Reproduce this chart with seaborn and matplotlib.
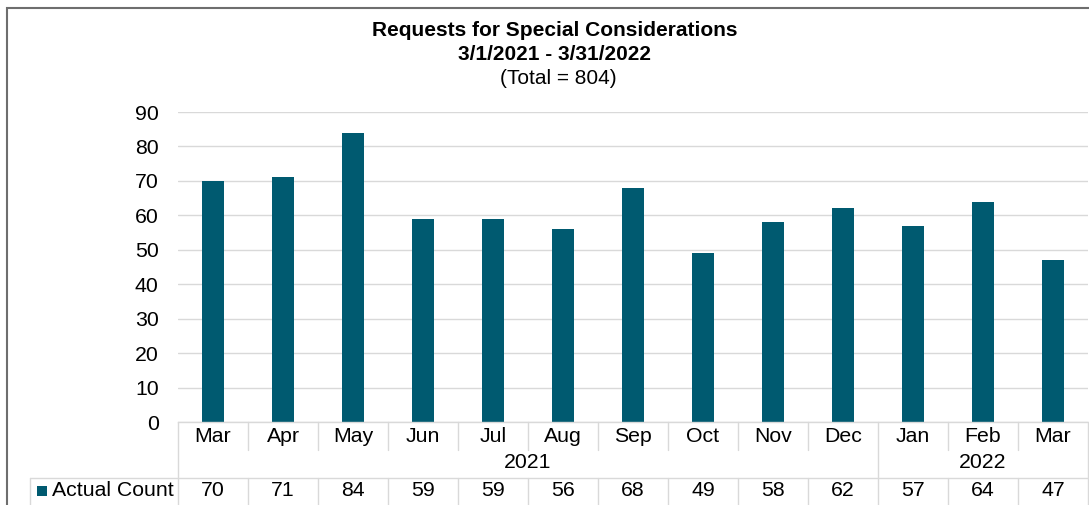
import matplotlib
matplotlib.use("Agg")
import matplotlib.pyplot as plt
import seaborn as sns
import pandas as pd
from matplotlib.patches import Rectangle

months = ["Mar", "Apr", "May", "Jun", "Jul", "Aug", "Sep", "Oct", "Nov", "Dec", "Jan", "Feb", "Mar"]
years = ["2021"] * 10 + ["2022"] * 3
counts = [70, 71, 84, 59, 59, 56, 68, 49, 58, 62, 57, 64, 47]
series_name = "Actual Count"
title_lines = ["Requests for Special Considerations", "3/1/2021 - 3/31/2022", "(Total = 804)"]
yticks = [0, 10, 20, 30, 40, 50, 60, 70, 80, 90]

BAR = "#005A70"
GRID = "#D9D9D9"
FS = 15.3

sns.set_theme(style="white")
plt.rcParams["font.family"] = ["Liberation Sans", "DejaVu Sans"]
plt.rcParams["text.color"] = "#000000"
plt.rcParams["ytick.color"] = "#000000"
plt.rcParams["ytick.labelcolor"] = "#000000"

W, H = 1089, 505
fig = plt.figure(figsize=(W / 100, H / 100), dpi=100)

x0, x1 = 178, 1088
ytop, ybot = 112, 422
ax = fig.add_axes([x0 / W, 1 - ybot / H, (x1 - x0) / W, (ybot - ytop) / H])

df = pd.DataFrame({"key": [f"{m}{y}" for m, y in zip(months, years)], "count": counts})
sns.barplot(data=df, x="key", y="count", color=BAR, width=0.31, saturation=1, ax=ax,
            order=list(df["key"]), linewidth=0, edgecolor="none")

ax.set_xlim(-0.5, len(months) - 0.5)
ax.set_ylim(0, 90)
ax.set_yticks(yticks)
ax.set_yticklabels([str(t) for t in yticks], fontsize=FS, color="#000000")
ax.tick_params(axis="y", length=0, pad=14)
ax.set_xticks([])
ax.set_xlabel("")
ax.set_ylabel("")
for s in ["top", "right", "left"]:
    ax.spines[s].set_visible(False)
ax.spines["bottom"].set_color(GRID)
ax.spines["bottom"].set_linewidth(1)
ax.yaxis.grid(True, color=GRID, linewidth=1)
ax.set_axisbelow(True)

# table below axes
ph = ybot - ytop
def fy(py):
    return -(py - ybot) / ph

tr = ax.get_xaxis_transform()
n = len(months)
lw = 1
y_mon_bot = fy(450)
y_row = fy(478)
y_end = fy(510)
for i in range(n + 1):
    xb = i - 0.5
    full = i == 0 or i == n or (0 < i < n and years[i - 1] != years[i])
    if full:
        ax.plot([xb, xb], [0, y_end], color=GRID, lw=lw, transform=tr, clip_on=False)
    else:
        ax.plot([xb, xb], [0, y_mon_bot], color=GRID, lw=lw, transform=tr, clip_on=False)
        ax.plot([xb, xb], [y_row, y_end], color=GRID, lw=lw, transform=tr, clip_on=False)
xl = -0.5 - (x0 - 30) / ((x1 - x0) / n)
ax.plot([xl, n - 0.5], [y_row, y_row], color=GRID, lw=lw, transform=tr, clip_on=False)
ax.plot([xl, xl], [y_row, y_end], color=GRID, lw=lw, transform=tr, clip_on=False)

for i, (m, c) in enumerate(zip(months, counts)):
    ax.text(i, fy(436), m, ha="center", va="center", fontsize=FS, color="#000000",
            transform=tr, clip_on=False)
    ax.text(i, fy(491), str(c), ha="center", va="center", fontsize=FS, color="#000000",
            transform=tr, clip_on=False)
for yr in dict.fromkeys(years):
    idx = [i for i, v in enumerate(years) if v == yr]
    ax.text((idx[0] + idx[-1]) / 2, fy(463), yr, ha="center", va="center", fontsize=FS,
            color="#000000", transform=tr, clip_on=False)

# legend key in data row
fig.patches.append(Rectangle((37 / W, 1 - 496 / H), 10 / W, 10 / H, transform=fig.transFigure,
                             facecolor=BAR, edgecolor="none"))
fig.text(52 / W, 1 - 491 / H, series_name, ha="left", va="center", fontsize=FS, color="#000000")

# titles
fig.text(555 / W, 1 - 31 / H, title_lines[0], ha="center", va="center", fontsize=15,
         fontweight="bold", color="#000000")
fig.text(555 / W, 1 - 55 / H, title_lines[1], ha="center", va="center", fontsize=15,
         fontweight="bold", color="#000000")
fig.text(558 / W, 1 - 79 / H, title_lines[2], ha="center", va="center", fontsize=15, color="#000000")

# outer chart border
fig.patches.append(Rectangle((7 / W, -0.1), 1.2, 1 - 8 / H + 0.1, transform=fig.transFigure,
                             facecolor="none", edgecolor="#6E6E6E", linewidth=1.5))

fig.savefig("out.png", dpi=100)
